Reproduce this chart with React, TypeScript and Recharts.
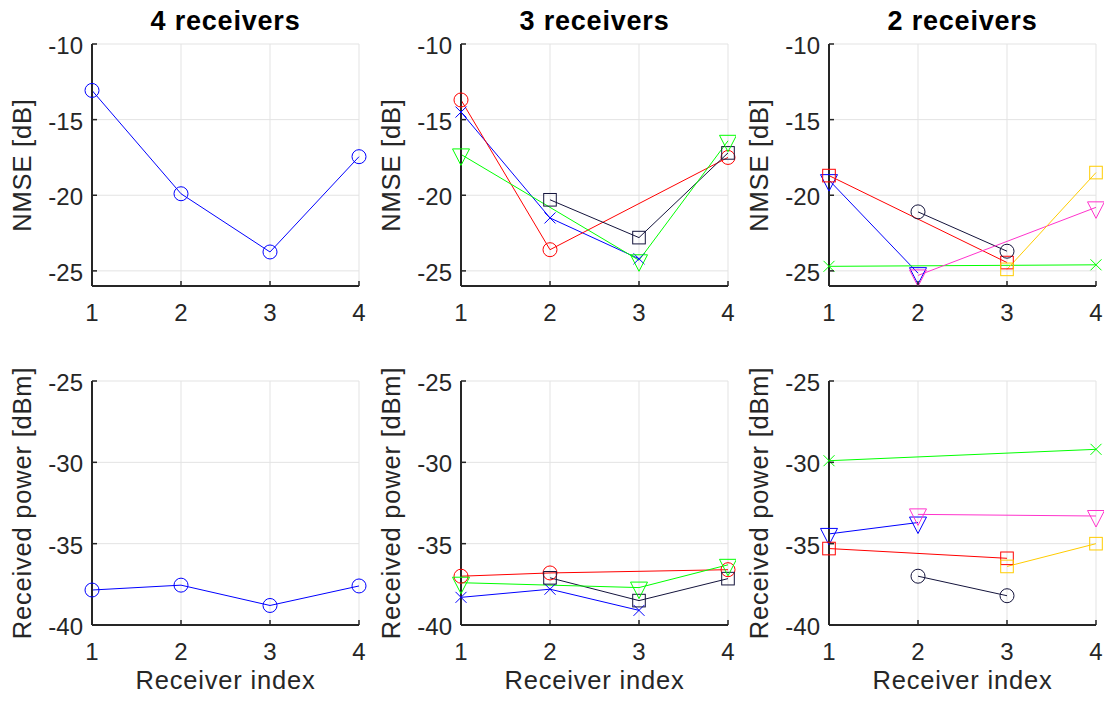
import React from 'react';
import { LineChart, Line, XAxis, YAxis, CartesianGrid } from 'recharts';

// ---------- data ----------
const receiverIndex = [1, 2, 3, 4];
const xTicks = [1, 2, 3, 4];
const nmseTicks = [-25, -20, -15, -10];
const powerTicks = [-40, -35, -30, -25];
const titles = ['4 receivers', '3 receivers', '2 receivers'];
const nmseLabel = 'NMSE [dB]';
const powerLabel = 'Received power [dBm]';
const xLabel = 'Receiver index';

// 4 receivers
const nmse4Blue = [-13.07, -19.9, -23.75, -17.45];
const power4Blue = [-37.85, -37.55, -38.8, -37.6];

// 3 receivers
const nmse3Blue = [-14.5, -21.5, -24.2, null];
const nmse3Red = [-13.7, -23.6, null, -17.5];
const nmse3Black = [null, -20.3, -22.8, -17.2];
const nmse3Green = [-17.3, null, -24.3, -16.4];
const power3Blue = [-38.3, -37.8, -39.1, null];
const power3Red = [-37.0, -36.8, null, -36.6];
const power3Black = [null, -37.1, -38.5, -37.15];
const power3Green = [-37.4, null, -37.7, -36.3];

// 2 receivers
const nmse2Blue = [-19.0, -25.15, null, null];
const nmse2Red = [-18.7, null, -24.45, null];
const nmse2Green = [-24.7, null, null, -24.6];
const nmse2Black = [null, -21.1, -23.7, null];
const nmse2Magenta = [null, -25.3, null, -20.8];
const nmse2Yellow = [null, null, -24.9, -18.5];
const power2Blue = [-34.4, -33.7, null, null];
const power2Red = [-35.3, null, -35.9, null];
const power2Green = [-29.9, null, null, -29.2];
const power2Black = [null, -37.0, -38.2, null];
const power2Magenta = [null, -33.2, null, -33.3];
const power2Yellow = [null, null, -36.4, -35.0];

// ---------- styles ----------
const BLUE = '#0000ff';
const RED = '#ff0000';
const GREEN = '#00ff00';
const BLACK = '#14143c';
const MAGENTA = '#ff33cc';
const YELLOW = '#ffcc00';
const AXIS = '#262626';
const GRID = '#e3e3e3';
const FONT = '"Liberation Sans", Arial, Helvetica, sans-serif';

type Shape = 'circle' | 'x' | 'square' | 'tri';
type Series = { data: (number | null)[]; color: string; shape: Shape };

const plotLeft = [92, 461, 829];
const plotRight = [359, 728, 1096];
const plotTop = [44, 381];
const plotBottom = [286, 625];
const Y_AXIS_W = 70;
const X_AXIS_H = 45;
const TOP_M = 24;
const RIGHT_M = 8;

const makeDot = (shape: Shape, color: string) => (props: any) => {
  const { cx, cy, index, value } = props;
  const key = `m-${index}`;
  if (cx == null || cy == null || value == null || Number.isNaN(cy)) return <g key={key} />;
  const common = { fill: 'none', stroke: color, strokeWidth: 1 };
  if (shape === 'circle') return <circle key={key} cx={cx} cy={cy} r={7} {...common} />;
  if (shape === 'square') return <rect key={key} x={cx - 6.3} y={cy - 6.3} width={12.6} height={12.6} {...common} />;
  if (shape === 'x') {
    const a = 5.5;
    return <path key={key} d={`M${cx - a},${cy - a}L${cx + a},${cy + a}M${cx - a},${cy + a}L${cx + a},${cy - a}`} {...common} />;
  }
  return <path key={key} d={`M${cx - 8.5},${cy - 5.5}L${cx + 8.5},${cy - 5.5}L${cx},${cy + 11}Z`} {...common} />;
};

const XTick = (props: any) => {
  const { x, y, payload } = props;
  return (
    <g>
      <line x1={x} x2={x} y1={y} y2={y - 5} stroke={AXIS} strokeWidth={1.5} />
      <text x={x} y={y + 35} textAnchor="middle" fontSize={24} fill={AXIS} fontFamily={FONT}>
        {payload.value}
      </text>
    </g>
  );
};

const YTick = (props: any) => {
  const { x, y, payload } = props;
  return (
    <g>
      <line x1={x} x2={x + 5} y1={y} y2={y} stroke={AXIS} strokeWidth={1.5} />
      <text x={x - 9} y={y + 10} textAnchor="end" fontSize={24} fill={AXIS} fontFamily={FONT}>
        {payload.value}
      </text>
    </g>
  );
};

const panels: { row: number; col: number; series: Series[] }[] = [
  { row: 0, col: 0, series: [{ data: nmse4Blue, color: BLUE, shape: 'circle' }] },
  {
    row: 0, col: 1, series: [
      { data: nmse3Blue, color: BLUE, shape: 'x' },
      { data: nmse3Red, color: RED, shape: 'circle' },
      { data: nmse3Black, color: BLACK, shape: 'square' },
      { data: nmse3Green, color: GREEN, shape: 'tri' },
    ],
  },
  {
    row: 0, col: 2, series: [
      { data: nmse2Blue, color: BLUE, shape: 'tri' },
      { data: nmse2Red, color: RED, shape: 'square' },
      { data: nmse2Green, color: GREEN, shape: 'x' },
      { data: nmse2Black, color: BLACK, shape: 'circle' },
      { data: nmse2Magenta, color: MAGENTA, shape: 'tri' },
      { data: nmse2Yellow, color: YELLOW, shape: 'square' },
    ],
  },
  { row: 1, col: 0, series: [{ data: power4Blue, color: BLUE, shape: 'circle' }] },
  {
    row: 1, col: 1, series: [
      { data: power3Blue, color: BLUE, shape: 'x' },
      { data: power3Red, color: RED, shape: 'circle' },
      { data: power3Black, color: BLACK, shape: 'square' },
      { data: power3Green, color: GREEN, shape: 'tri' },
    ],
  },
  {
    row: 1, col: 2, series: [
      { data: power2Blue, color: BLUE, shape: 'tri' },
      { data: power2Red, color: RED, shape: 'square' },
      { data: power2Green, color: GREEN, shape: 'x' },
      { data: power2Black, color: BLACK, shape: 'circle' },
      { data: power2Magenta, color: MAGENTA, shape: 'tri' },
      { data: power2Yellow, color: YELLOW, shape: 'square' },
    ],
  },
];

const Panel = ({ row, col, series }: { row: number; col: number; series: Series[] }) => {
  const data = receiverIndex.map((x, i) => {
    const rowObj: any = { x };
    series.forEach((s, k) => {
      rowObj[`s${k}`] = s.data[i];
    });
    return rowObj;
  });
  const left = plotLeft[col] - Y_AXIS_W;
  const top = plotTop[row] - TOP_M;
  const width = plotRight[col] - plotLeft[col] + Y_AXIS_W + RIGHT_M;
  const height = plotBottom[row] - plotTop[row] + TOP_M + X_AXIS_H;
  const isTop = row === 0;
  return (
    <div style={{ position: 'absolute', left, top, width, height }}>
      <LineChart width={width} height={height} data={data} margin={{ top: TOP_M, right: RIGHT_M, left: 0, bottom: 0 }}>
        <CartesianGrid stroke={GRID} strokeWidth={1} />
        <XAxis
          dataKey="x"
          type="number"
          domain={[1, 4]}
          ticks={xTicks}
          height={X_AXIS_H}
          tickSize={0}
          tickMargin={0}
          tickLine={false}
          axisLine={{ stroke: AXIS, strokeWidth: 2 }}
          tick={<XTick />}
          interval={0}
        />
        <YAxis
          type="number"
          domain={isTop ? [-26, -10] : [-40, -25]}
          ticks={isTop ? nmseTicks : powerTicks}
          width={Y_AXIS_W}
          tickSize={0}
          tickMargin={0}
          tickLine={false}
          axisLine={{ stroke: AXIS, strokeWidth: 2 }}
          tick={<YTick />}
          interval={0}
          allowDataOverflow
        />
        {series.map((s, k) => (
          <Line
            key={k}
            dataKey={`s${k}`}
            stroke={s.color}
            strokeWidth={1}
            connectNulls
            isAnimationActive={false}
            activeDot={false}
            dot={makeDot(s.shape, s.color)}
            type="linear"
          />
        ))}
      </LineChart>
    </div>
  );
};

export default function App() {
  return (
    <div style={{ position: 'absolute', left: 0, top: 0, width: 1104, height: 702, background: '#ffffff', overflow: 'hidden' }}>
      {panels.map((p, i) => (
        <Panel key={i} row={p.row} col={p.col} series={p.series} />
      ))}
      <svg width={1104} height={702} style={{ position: 'absolute', left: 0, top: 0, pointerEvents: 'none' }}>
        {titles.map((t, c) => (
          <text
            key={`t${c}`}
            x={(plotLeft[c] + plotRight[c]) / 2}
            y={30}
            textAnchor="middle"
            fontSize={27}
            fontWeight="bold"
            fill="#000000"
            fontFamily={FONT}
            style={{ letterSpacing: '0.8px' }}
          >
            {t}
          </text>
        ))}
        {plotLeft.map((pl, c) => (
          <text
            key={`xl${c}`}
            x={(pl + plotRight[c]) / 2}
            y={689}
            textAnchor="middle"
            fontSize={25.5}
            fill={AXIS}
            fontFamily={FONT}
            style={{ letterSpacing: '0.8px' }}
          >
            {xLabel}
          </text>
        ))}
        {plotLeft.map((pl, c) =>
          [0, 1].map((r) => {
            const cx = pl - 61;
            const cy = (plotTop[r] + plotBottom[r]) / 2;
            return (
              <text
                key={`yl${c}-${r}`}
                x={cx}
                y={cy}
                transform={`rotate(-90 ${cx} ${cy})`}
                textAnchor="middle"
                fontSize={25.5}
                fill={AXIS}
                fontFamily={FONT}
                style={{ letterSpacing: '0.8px' }}
              >
                {r === 0 ? nmseLabel : powerLabel}
              </text>
            );
          })
        )}
      </svg>
    </div>
  );
}
